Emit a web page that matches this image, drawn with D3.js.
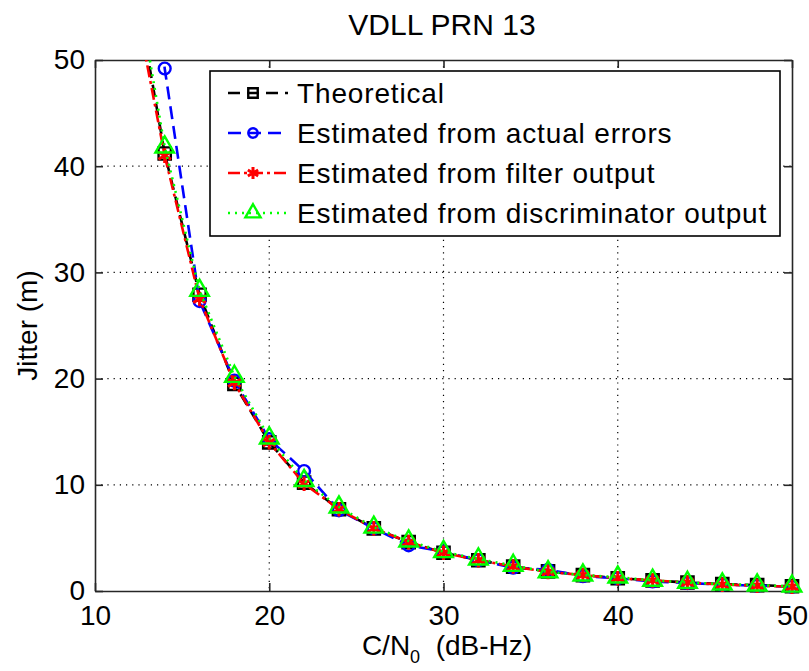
<!DOCTYPE html>
<html>
<head>
<meta charset="utf-8">
<script src="https://cdn.jsdelivr.net/npm/d3@7"></script>
<style>
  body { margin: 0; background: #fff; }
  text { font-family: "Liberation Sans", Arial, sans-serif; fill: #000; }
</style>
</head>
<body>
<svg id="chart" width="809" height="671"></svg>
<script>
// data
const cn0 = [12, 14, 16, 18, 20, 22, 24, 26, 28, 30, 32, 34, 36, 38, 40, 42, 44, 46, 48, 50];
const theoretical = [60, 41.2, 27.9, 19.5, 14.0, 10.2, 7.7, 5.9, 4.6, 3.6, 2.9, 2.3, 1.85, 1.5, 1.2, 1.0, 0.8, 0.65, 0.55, 0.45];
const actualErrors = [85, 49.2, 27.3, 19.8, 14.3, 11.3, 7.6, 5.9, 4.3, 3.7, 2.9, 2.2, 2.0, 1.4, 1.2, 0.9, 0.75, 0.6, 0.5, 0.4];
const filterOutput = [58, 41.0, 27.5, 19.6, 14.0, 10.1, 7.7, 5.9, 4.6, 3.6, 2.9, 2.3, 1.8, 1.5, 1.2, 1.0, 0.8, 0.6, 0.5, 0.4];
const discOutput = [61, 41.8, 28.3, 20.2, 14.4, 10.4, 7.9, 6.0, 4.7, 3.7, 3.0, 2.4, 1.8, 1.5, 1.3, 1.0, 0.8, 0.65, 0.55, 0.45];
const xTicks = [10, 20, 30, 40, 50];
const yTicks = [0, 10, 20, 30, 40, 50];

const series = [
    { name: 'Theoretical', values: theoretical, color: '#000000', dash: '12,7', marker: 'square' },
    { name: 'Estimated from actual errors', values: actualErrors, color: '#0000ff', dash: '13,7', marker: 'circle' },
    { name: 'Estimated from filter output', values: filterOutput, color: '#ff0000', dash: '12,4,3,4', marker: 'star' },
    { name: 'Estimated from discriminator output', values: discOutput, color: '#00ff00', dash: '2,5', marker: 'triangle' }
];

const svg = d3.select('#chart'),
    m = { left: 95, right: 17, top: 60, bottom: 80 },
    W = 809 - m.left - m.right,
    H = 671 - m.top - m.bottom;

const x = d3.scaleLinear().domain([10, 50]).range([0, W]);
const y = d3.scaleLinear().domain([0, 50]).range([H, 0]);

const g = svg.append('g').attr('transform', 'translate(' + m.left + ',' + m.top + ')');

svg.append('defs').append('clipPath').attr('id', 'plotclip')
    .append('rect').attr('width', W).attr('height', H);

// grid
g.append('g').selectAll('line').data(xTicks.slice(1, -1)).enter().append('line')
    .attr('x1', d => x(d)).attr('x2', d => x(d)).attr('y1', 0).attr('y2', H)
    .attr('stroke', '#000').attr('stroke-width', 1.2).attr('stroke-dasharray', '1.2,5');
g.append('g').selectAll('line').data(yTicks.slice(1, -1)).enter().append('line')
    .attr('y1', d => y(d)).attr('y2', d => y(d)).attr('x1', 0).attr('x2', W)
    .attr('stroke', '#000').attr('stroke-width', 1.2).attr('stroke-dasharray', '1.2,5');

// axes, ticks pointing inward on all sides
const axisStyle = sel => {
    sel.select('.domain').attr('stroke', '#262626').attr('stroke-width', 1.6);
    sel.selectAll('.tick line').attr('stroke', '#262626').attr('stroke-width', 1.6);
    sel.selectAll('.tick text').style('font-size', '28px').style('font-family', '"Liberation Sans", Arial, sans-serif');
};
g.append('g').attr('transform', 'translate(0,' + H + ')')
    .call(d3.axisBottom(x).tickValues(xTicks).tickSizeInner(-8).tickSizeOuter(0).tickPadding(14))
    .call(axisStyle);
g.append('g')
    .call(d3.axisLeft(y).tickValues(yTicks).tickSizeInner(-8).tickSizeOuter(0).tickPadding(10))
    .call(axisStyle);
g.append('g')
    .call(d3.axisTop(x).tickValues(xTicks).tickSizeInner(-8).tickSizeOuter(0).tickFormat(''))
    .call(axisStyle);
g.append('g').attr('transform', 'translate(' + W + ',0)')
    .call(d3.axisRight(y).tickValues(yTicks).tickSizeInner(-8).tickSizeOuter(0).tickFormat(''))
    .call(axisStyle);

// marker shapes
const symbolOf = {
    square: d3.symbol().type(d3.symbolSquare).size(150),
    circle: d3.symbol().type(d3.symbolCircle).size(110),
    star: d3.symbol().type(d3.symbolAsterisk).size(150),
    triangle: d3.symbol().type(d3.symbolTriangle).size(150)
};
const legendSymbolOf = {
    square: d3.symbol().type(d3.symbolSquare).size(90),
    circle: d3.symbol().type(d3.symbolCircle).size(70),
    star: d3.symbol().type(d3.symbolAsterisk).size(100),
    triangle: d3.symbol().type(d3.symbolTriangle).size(100)
};
function drawMarker(sel, s, table) {
    sel.append('path')
        .attr('d', table[s.marker]())
        .attr('fill', 'none')
        .attr('stroke', s.color)
        .attr('stroke-width', s.marker === 'star' ? 3 : 2.4);
}

const line = d3.line().x((d, i) => x(cn0[i])).y(d => y(d));

series.forEach(s => {
    g.append('path')
        .datum(s.values)
        .attr('clip-path', 'url(#plotclip)')
        .attr('d', line)
        .attr('fill', 'none')
        .attr('stroke', s.color)
        .attr('stroke-width', 2.6)
        .attr('stroke-dasharray', s.dash);

    const pts = s.values.map((v, i) => [cn0[i], v]).filter(p => p[0] >= 10 && p[1] <= 50);
    g.append('g').selectAll('g').data(pts).enter().append('g')
        .attr('transform', d => 'translate(' + x(d[0]) + ',' + y(d[1]) + ')')
        .each(function () { drawMarker(d3.select(this), s, symbolOf); });
});

// legend
const lg = svg.append('g').attr('transform', 'translate(210,71)');
lg.append('rect').attr('width', 570).attr('height', 165)
    .attr('fill', '#fff').attr('stroke', '#000').attr('stroke-width', 1.6);
series.forEach((s, i) => {
    const row = lg.append('g').attr('transform', 'translate(0,' + (22 + i * 40) + ')');
    row.append('line').attr('x1', 18).attr('x2', 78).attr('y1', 0).attr('y2', 0)
        .attr('stroke', s.color).attr('stroke-width', 2.6).attr('stroke-dasharray', s.dash);
    row.append('g').attr('transform', 'translate(43,0)').call(sel => drawMarker(sel, s, legendSymbolOf));
    row.append('text').attr('x', 87).attr('y', 10)
        .style('font-size', '28px').style('letter-spacing', '0.85px').text(s.name);
});

// titles
svg.append('text').attr('x', 442).attr('y', 35).attr('text-anchor', 'middle')
    .style('font-size', '30px').text('VDLL PRN 13');
const xl = svg.append('text').attr('x', 447).attr('y', 655).attr('text-anchor', 'middle')
    .style('font-size', '28px');
xl.append('tspan').text('C/N');
xl.append('tspan').attr('dy', 8).style('font-size', '18px').text('0');
xl.append('tspan').attr('dy', -8).text('\u00a0\u00a0(dB-Hz)');
svg.append('text').attr('transform', 'translate(37,' + (m.top + H / 2) + ') rotate(-90)')
    .attr('text-anchor', 'middle').style('font-size', '28px').text('Jitter (m)');
</script>
</body>
</html>
